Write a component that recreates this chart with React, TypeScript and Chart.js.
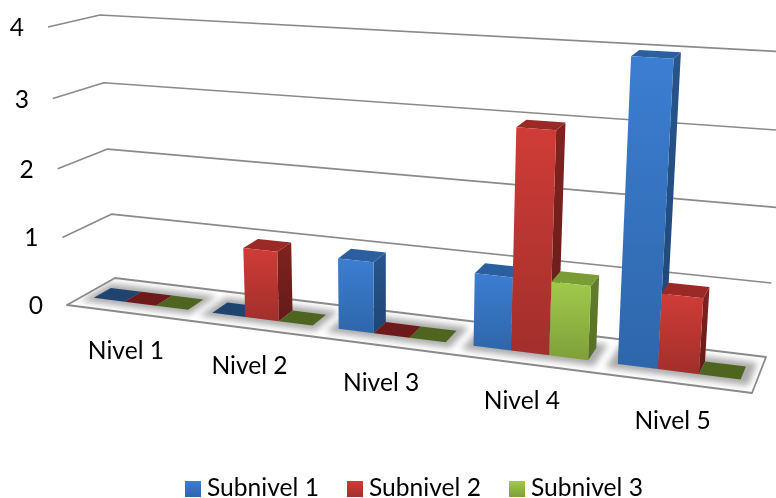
import React, { useEffect, useRef } from "react";
import { Chart, registerables } from "chart.js";

Chart.register(...registerables);

const categories = ["Nivel 1", "Nivel 2", "Nivel 3", "Nivel 4", "Nivel 5"];
const subnivel1 = [0, 0, 1, 1, 4];
const subnivel2 = [0, 1, 0, 3, 1];
const subnivel3 = [0, 0, 0, 1, 0];
const seriesNames = ["Subnivel 1", "Subnivel 2", "Subnivel 3"];

type Pt = [number, number];

// Corners of the 3D box: floor and the plane at the axis maximum.
const BOX = {
  floorFrontLeft: [67, 305] as Pt,
  floorFrontRight: [752, 393] as Pt,
  floorBackLeft: [115, 278] as Pt,
  floorBackRight: [766, 357] as Pt,
  topFrontLeft: [48, 27] as Pt,
  topFrontRight: [773, 71] as Pt,
  topBackLeft: [100, 15] as Pt,
  topBackRight: [788, 52] as Pt,
};
const WIDTH_PERSPECTIVE = 1.18;
const HEIGHT_PERSPECTIVE = 1.04;
const BAR_FRONT = 0.32;
const BAR_BACK = 0.68;
const FONT = "Lato, sans-serif";

const PALETTE = [
  { hi: "#3c7ed2", lo: "#2e66aa", side: ["#27558c", "#1f4674"], top: "#2b5f9f", flat: "#1f4470" },
  { hi: "#d03c37", lo: "#a12f2b", side: ["#80231f", "#641b19"], top: "#9b2a27", flat: "#6e1a1a" },
  { hi: "#a0ca4a", lo: "#7f9f3a", side: ["#637f2c", "#566e25"], top: "#7a9c35", flat: "#4f641e" },
];

const foreshorten = (t: number, a: number) => t / (a - (a - 1) * t);
const mix = (a: Pt, b: Pt, k: number): Pt => [a[0] + (b[0] - a[0]) * k, a[1] + (b[1] - a[1]) * k];

// t: along the categories, depth: 0 front to 1 back, s: 0 floor to 1 axis maximum.
function project(t: number, depth: number, s: number): Pt {
  const u = foreshorten(t, WIDTH_PERSPECTIVE);
  const h = foreshorten(s, HEIGHT_PERSPECTIVE);
  const floor = mix(
    mix(BOX.floorFrontLeft, BOX.floorFrontRight, u),
    mix(BOX.floorBackLeft, BOX.floorBackRight, u),
    depth,
  );
  const top = mix(
    mix(BOX.topFrontLeft, BOX.topFrontRight, u),
    mix(BOX.topBackLeft, BOX.topBackRight, u),
    depth,
  );
  return mix(floor, top, h);
}

function poly(ctx: CanvasRenderingContext2D, pts: Pt[], fill: string | CanvasGradient) {
  ctx.beginPath();
  pts.forEach((p, i) => (i ? ctx.lineTo(p[0], p[1]) : ctx.moveTo(p[0], p[1])));
  ctx.closePath();
  ctx.fillStyle = fill;
  ctx.fill();
}

function line(ctx: CanvasRenderingContext2D, pts: Pt[], closed = false) {
  ctx.beginPath();
  pts.forEach((p, i) => (i ? ctx.lineTo(p[0], p[1]) : ctx.moveTo(p[0], p[1])));
  if (closed) ctx.closePath();
  ctx.stroke();
}

function vGradient(ctx: CanvasRenderingContext2D, y0: number, y1: number, a: string, b: string) {
  const g = ctx.createLinearGradient(0, y0, 0, Math.max(y1, y0 + 1));
  g.addColorStop(0, a);
  g.addColorStop(1, b);
  return g;
}

const box3d = {
  id: "box3d",
  beforeDatasetsDraw(chart: any) {
    const { ctx, chartArea, scales } = chart;
    const toT = (px: number) => (px - chartArea.left) / (chartArea.right - chartArea.left);
    const toS = (px: number) => (scales.y.bottom - px) / (scales.y.bottom - scales.y.top);
    const maxValue = scales.y.max;

    ctx.save();
    ctx.lineJoin = "round";

    // Walls: one gridline per tick, running along the side wall and the back wall.
    ctx.strokeStyle = "#8a8a8a";
    ctx.lineWidth = 1.6;
    for (const tick of scales.y.ticks) {
      if (tick.value === 0) continue;
      const s = tick.value / maxValue;
      line(ctx, [project(0, 0, s), project(0, 1, s), project(1, 1, s)]);
    }

    // Floor plate.
    const plate = [project(0, 0, 0), project(0, 1, 0), project(1, 1, 0), project(1, 0, 0)];
    poly(ctx, plate, "#ffffff");

    // Soft shading around each group of bars.
    const metas = chart.getSortedVisibleDatasetMetas();
    ctx.save();
    ctx.beginPath();
    plate.forEach((p, i) => (i ? ctx.lineTo(p[0], p[1]) : ctx.moveTo(p[0], p[1])));
    ctx.closePath();
    ctx.clip();
    ctx.filter = "blur(3px)";
    categories.forEach((_, i) => {
      const first = metas[0].data[i];
      const last = metas[metas.length - 1].data[i];
      const t0 = toT(first.x - first.width / 2) - 0.012;
      const t1 = toT(last.x + last.width / 2) + 0.012;
      poly(
        ctx,
        [
          project(t0, BAR_FRONT - 0.14, 0),
          project(t0, BAR_BACK + 0.14, 0),
          project(t1, BAR_BACK + 0.14, 0),
          project(t1, BAR_FRONT - 0.14, 0),
        ],
        "#acacac",
      );
    });
    ctx.restore();

    ctx.strokeStyle = "#8a8a8a";
    ctx.lineWidth = 1.8;
    line(ctx, plate, true);

    // Bars, left to right so that each one overlaps its left neighbour's side.
    categories.forEach((_, i) => {
      metas.forEach((meta: any, d: number) => {
        const el = meta.data[i];
        const c = PALETTE[d];
        const t0 = toT(el.x - el.width / 2);
        const t1 = toT(el.x + el.width / 2);
        const s = toS(el.y);
        const base = [
          project(t0, BAR_FRONT, 0),
          project(t1, BAR_FRONT, 0),
          project(t1, BAR_BACK, 0),
          project(t0, BAR_BACK, 0),
        ];
        if (s <= 0) {
          poly(ctx, base, c.flat);
          return;
        }
        const fTL = project(t0, BAR_FRONT, s);
        const fTR = project(t1, BAR_FRONT, s);
        const bTR = project(t1, BAR_BACK, s);
        const bTL = project(t0, BAR_BACK, s);
        poly(ctx, [base[1], fTR, bTR, base[2]], vGradient(ctx, bTR[1], base[1][1], c.side[0], c.side[1]));
        poly(ctx, [fTL, fTR, bTR, bTL], c.top);
        poly(ctx, [base[0], fTL, fTR, base[1]], vGradient(ctx, fTL[1], base[1][1], c.hi, c.lo));
      });
    });

    // Value labels down the side wall.
    ctx.fillStyle = "#000000";
    ctx.font = `24.6px ${FONT}`;
    ctx.textAlign = "center";
    ctx.textBaseline = "middle";
    for (const tick of scales.y.ticks) {
      const p = project(0, 0, tick.value / maxValue);
      ctx.fillText(String(tick.value), p[0] - 31, p[1] + 1);
    }

    // Category labels below the front edge of the floor.
    scales.x.getLabels().forEach((label: string, i: number) => {
      const p = project(toT(scales.x.getPixelForTick(i)), 0, 0);
      ctx.fillText(label, p[0], p[1] + 38);
    });

    // Legend row.
    ctx.textAlign = "left";
    chart.data.datasets.forEach((ds: any, d: number) => {
      const x = 185 + d * 162;
      ctx.fillStyle = vGradient(ctx, 481, 497, PALETTE[d].hi, PALETTE[d].lo);
      ctx.fillRect(x, 481, 16, 16);
      ctx.fillStyle = "#000000";
      ctx.fillText(ds.label, x + 22, 488);
    });

    ctx.restore();
    return false;
  },
};

export default function App() {
  const ref = useRef<HTMLCanvasElement>(null);
  useEffect(() => {
    const chart = new Chart(ref.current!, {
      type: "bar",
      data: {
        labels: categories,
        datasets: [
          { label: seriesNames[0], data: subnivel1, backgroundColor: PALETTE[0].hi },
          { label: seriesNames[1], data: subnivel2, backgroundColor: PALETTE[1].hi },
          { label: seriesNames[2], data: subnivel3, backgroundColor: PALETTE[2].hi },
        ],
      },
      options: {
        responsive: false,
        animation: false,
        events: [],
        datasets: { bar: { categoryPercentage: 0.8, barPercentage: 1 } },
        plugins: { legend: { display: false }, tooltip: { enabled: false } },
        scales: {
          x: { display: false },
          y: { display: false, min: 0, max: 4, ticks: { stepSize: 1 } },
        },
      },
      plugins: [box3d],
    } as any);
    return () => chart.destroy();
  }, []);
  return (
    <div style={{ position: "absolute", left: 0, top: 0, width: 776, height: 498, background: "#fff", overflow: "hidden" }}>
      <canvas ref={ref} width={776} height={498} style={{ display: "block" }} />
    </div>
  );
}
